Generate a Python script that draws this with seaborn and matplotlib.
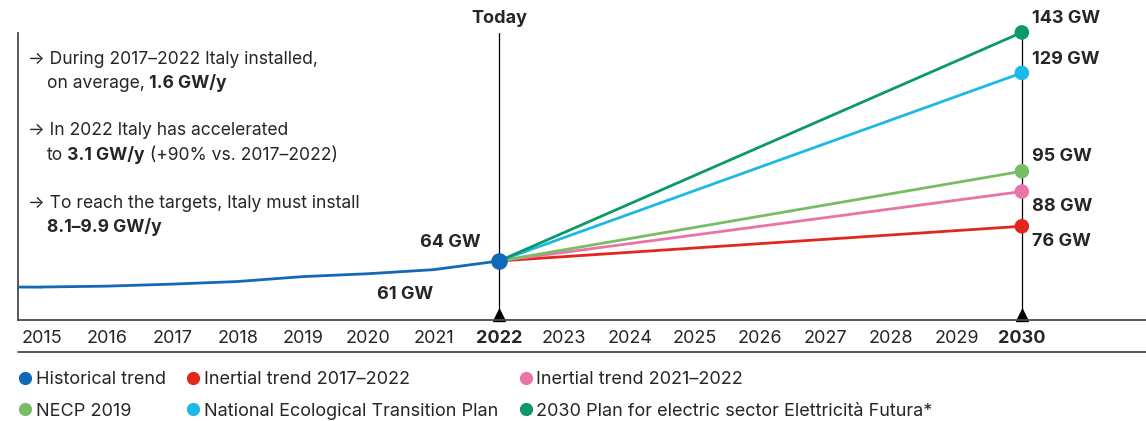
import pandas as pd
import matplotlib.pyplot as plt
import seaborn as sns
from matplotlib.lines import Line2D

# data (GW of installed capacity)
hist_years = [2015, 2016, 2017, 2018, 2019, 2020, 2021, 2022]
hist_gw = [55.0, 55.3, 56.0, 56.9, 58.6, 59.6, 61.0, 64.0]

scen_names = ["Inertial trend 2017–2022", "Inertial trend 2021–2022", "NECP 2019",
              "National Ecological Transition Plan",
              "2030 Plan for electric sector Elettricità Futura*"]
scen_start_year = 2022
scen_end_year = 2030
scen_start_gw = 64
scen_end_gw = [76, 88, 95, 129, 143]
scen_labels = ["76 GW", "88 GW", "95 GW", "129 GW", "143 GW"]

years = list(range(2015, 2031))

hist_color = "#1169b8"
scen_colors = ["#e3261b", "#ec73a6", "#78bd65", "#1cb8e6", "#0b9966"]

sns.set_style("white")
plt.rcParams["font.family"] = ["Inter", "DejaVu Sans"]
FS = 13
NOTE_FS = 12.6

fig = plt.figure(figsize=(11.46, 4.21), dpi=100)
ax = fig.add_axes([18 / 1146, 101 / 421, 1128 / 1146, 287 / 421])
ax.set_xlim(2014.64, 2031.9)
ax.set_ylim(43.6, 142.8)

# vertical markers for today and 2030
for yr in [2022, 2030]:
    ax.axvline(yr, color="black", lw=0.9, zorder=1)
ax.plot([2022, 2030], [0.018, 0.018], transform=ax.get_xaxis_transform(),
        marker="^", color="black", ms=8, ls="", clip_on=False, zorder=2)

# historical line
hist = pd.DataFrame({"year": hist_years, "gw": hist_gw})
sns.lineplot(data=hist, x="year", y="gw", color=hist_color, lw=2, ax=ax, zorder=4)
xmin = ax.get_xlim()[0]
ax.plot([xmin, hist_years[0]], [hist_gw[0], hist_gw[0] - 0.05], color=hist_color, lw=2, zorder=4)

# scenarios
rows = []
for name, end in zip(scen_names, scen_end_gw):
    rows.append({"year": scen_start_year, "gw": scen_start_gw, "scenario": name})
    rows.append({"year": scen_end_year, "gw": end, "scenario": name})
scen = pd.DataFrame(rows)
pal = dict(zip(scen_names, scen_colors))
sns.lineplot(data=scen, x="year", y="gw", hue="scenario", palette=pal, lw=2,
             legend=False, ax=ax, zorder=3)
ends = scen[scen["year"] == scen_end_year]
sns.scatterplot(data=ends, x="year", y="gw", hue="scenario", palette=pal, s=110,
                edgecolor="none", legend=False, ax=ax, zorder=5, clip_on=False)
ax.scatter([hist_years[-1]], [hist_gw[-1]], s=120, color=hist_color, zorder=6)

# value labels
offsets = [(7, -11), (7, -11), (7, 11), (7, 10), (7, 10)]
for end, lab, (dx, dy) in zip(scen_end_gw, scen_labels, offsets):
    ax.annotate(lab, (scen_end_year, end), xytext=(dx, dy), textcoords="offset points",
                ha="left", va="center", fontweight="bold", fontsize=FS, annotation_clip=False)
ax.annotate("64 GW", (hist_years[-1], hist_gw[-1]), xytext=(-13, 13), textcoords="offset points",
            ha="right", va="center", fontweight="bold", fontsize=FS)
ax.annotate("61 GW", (hist_years[-2], hist_gw[-2]), xytext=(0, -18), textcoords="offset points",
            ha="right", va="center", fontweight="bold", fontsize=FS)
ax.text(2022, 1.05, "Today", transform=ax.get_xaxis_transform(), ha="center", va="center",
        fontweight="bold", fontsize=FS)

# axes styling
ax.set_xticks(years)
ax.set_xticklabels([str(y) for y in years], fontsize=FS)
for lab in ax.get_xticklabels():
    if lab.get_text() in ("2022", "2030"):
        lab.set_fontweight("bold")
ax.tick_params(axis="x", length=0, pad=7)
ax.set_yticks([])
ax.set_xlabel("")
ax.set_ylabel("")
for s in ["top", "right"]:
    ax.spines[s].set_visible(False)
for s in ["left", "bottom"]:
    ax.spines[s].set_color("#4a4a4a")
    ax.spines[s].set_linewidth(1.3)
ax.plot([0, 1], [-0.1115, -0.1115], transform=ax.transAxes, color="#4a4a4a", lw=1.3, clip_on=False)


# text notes at left, with bold pieces
def rich(x, y, parts):
    first, w = parts[0]
    t = fig.text(x / 1146, 1 - y / 421, first, ha="left", va="center", fontsize=NOTE_FS, fontweight=w)
    for s, w in parts[1:]:
        t = ax.annotate(s, xy=(1, 0), xycoords=t, ha="left", va="bottom", fontsize=NOTE_FS, fontweight=w)


rich(28, 60, [("→ During 2017–2022 Italy installed,", "normal")])
rich(47, 84, [("on average,", "normal"), (" 1.6 GW/y", "bold")])
rich(28, 131, [("→ In 2022 Italy has accelerated", "normal")])
rich(47, 155, [("to", "normal"), (" 3.1 GW/y", "bold"), (" (+90% vs. 2017–2022)", "normal")])
rich(28, 203, [("→ To reach the targets, Italy must install", "normal")])
rich(47, 227, [("8.1–9.9 GW/y", "bold")])

# legend
leg_names = ["Historical trend", scen_names[2], scen_names[0], scen_names[3], scen_names[1], scen_names[4]]
leg_colors = [hist_color, scen_colors[2], scen_colors[0], scen_colors[3], scen_colors[1], scen_colors[4]]
handles = [Line2D([], [], marker="o", ls="", color=c, ms=8.5) for c in leg_colors]
fig.legend(handles, leg_names, loc="upper left", bbox_to_anchor=(20 / 1146, 1 - 371 / 421),
           ncol=3, frameon=False, fontsize=FS, handlelength=0.6, handletextpad=0.3,
           columnspacing=1.2, labelspacing=0.82, borderpad=0, borderaxespad=0)

fig.savefig("out.png", dpi=100)
